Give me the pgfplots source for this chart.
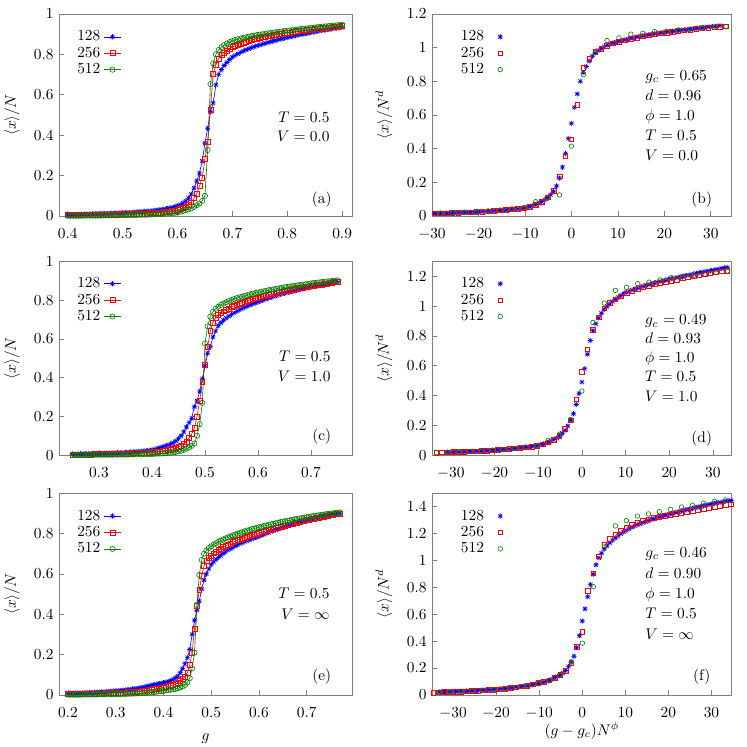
\documentclass[border=0pt]{standalone}
\usepackage{pgfplots}
\pgfplotsset{compat=1.18}
\usepackage{pgfplotstable}
\definecolor{gpblue}{RGB}{0,0,255}
\definecolor{gpred}{RGB}{255,0,0}
\definecolor{gpgreen}{RGB}{0,128,0}
\pgfdeclareplotmark{gpast}{%
  \pgfpathmoveto{\pgfqpoint{-\pgfplotmarksize}{0pt}}%
  \pgfpathlineto{\pgfqpoint{\pgfplotmarksize}{0pt}}%
  \pgfpathmoveto{\pgfqpoint{0pt}{-\pgfplotmarksize}}%
  \pgfpathlineto{\pgfqpoint{0pt}{\pgfplotmarksize}}%
  \pgfpathmoveto{\pgfqpoint{-0.75\pgfplotmarksize}{-0.75\pgfplotmarksize}}%
  \pgfpathlineto{\pgfqpoint{0.75\pgfplotmarksize}{0.75\pgfplotmarksize}}%
  \pgfpathmoveto{\pgfqpoint{-0.75\pgfplotmarksize}{0.75\pgfplotmarksize}}%
  \pgfpathlineto{\pgfqpoint{0.75\pgfplotmarksize}{-0.75\pgfplotmarksize}}%
  \pgfusepathqstroke
}
% panel (a): g, N=128, N=256, N=512
\pgfplotstableread{
g a b c
0.400 0.008 0.004 0.001
0.405 0.008 0.004 0.001
0.410 0.008 0.004 0.001
0.415 0.009 0.004 0.001
0.420 0.009 0.005 0.001
0.425 0.009 0.005 0.001
0.430 0.010 0.005 0.002
0.435 0.010 0.005 0.002
0.440 0.010 0.005 0.002
0.445 0.011 0.006 0.002
0.450 0.011 0.006 0.002
0.455 0.012 0.006 0.002
0.460 0.012 0.006 0.002
0.465 0.013 0.007 0.003
0.470 0.013 0.007 0.003
0.475 0.014 0.007 0.003
0.480 0.014 0.008 0.003
0.485 0.015 0.008 0.003
0.490 0.015 0.008 0.003
0.495 0.016 0.009 0.004
0.500 0.016 0.009 0.004
0.505 0.017 0.009 0.004
0.510 0.018 0.010 0.004
0.515 0.018 0.010 0.005
0.520 0.019 0.011 0.005
0.525 0.020 0.011 0.005
0.530 0.021 0.012 0.006
0.535 0.022 0.012 0.006
0.540 0.023 0.013 0.006
0.545 0.024 0.013 0.007
0.550 0.025 0.014 0.007
0.555 0.027 0.015 0.008
0.560 0.028 0.016 0.009
0.565 0.030 0.017 0.009
0.570 0.032 0.018 0.010
0.575 0.034 0.019 0.011
0.580 0.036 0.021 0.012
0.585 0.039 0.023 0.013
0.590 0.042 0.025 0.014
0.595 0.046 0.027 0.016
0.600 0.050 0.030 0.018
0.605 0.056 0.034 0.021
0.610 0.064 0.039 0.025
0.615 0.074 0.046 0.029
0.620 0.088 0.055 0.033
0.625 0.108 0.068 0.038
0.630 0.138 0.088 0.045
0.635 0.173 0.112 0.053
0.640 0.212 0.148 0.062
0.645 0.272 0.187 0.075
0.650 0.360 0.282 0.100
0.655 0.434 0.368 0.327
0.660 0.516 0.528 0.653
0.665 0.560 0.706 0.756
0.670 0.649 0.748 0.800
0.675 0.700 0.780 0.822
0.680 0.725 0.797 0.836
0.685 0.745 0.810 0.846
0.690 0.760 0.820 0.854
0.695 0.775 0.829 0.861
0.700 0.787 0.836 0.866
0.705 0.795 0.843 0.871
0.710 0.803 0.849 0.875
0.715 0.810 0.854 0.879
0.720 0.817 0.859 0.882
0.725 0.823 0.864 0.885
0.730 0.828 0.868 0.888
0.735 0.833 0.872 0.891
0.740 0.838 0.875 0.893
0.745 0.843 0.879 0.896
0.750 0.847 0.882 0.898
0.755 0.851 0.885 0.900
0.760 0.855 0.888 0.902
0.765 0.859 0.891 0.904
0.770 0.863 0.893 0.906
0.775 0.867 0.896 0.908
0.780 0.870 0.898 0.910
0.785 0.874 0.901 0.912
0.790 0.877 0.903 0.914
0.795 0.881 0.905 0.916
0.800 0.884 0.907 0.917
0.805 0.887 0.909 0.919
0.810 0.890 0.911 0.920
0.815 0.893 0.913 0.922
0.820 0.896 0.915 0.924
0.825 0.899 0.917 0.926
0.830 0.901 0.918 0.927
0.835 0.904 0.920 0.929
0.840 0.906 0.921 0.930
0.845 0.909 0.923 0.932
0.850 0.911 0.925 0.933
0.855 0.914 0.926 0.935
0.860 0.916 0.928 0.936
0.865 0.919 0.930 0.938
0.870 0.921 0.931 0.939
0.875 0.923 0.933 0.940
0.880 0.925 0.934 0.941
0.885 0.928 0.936 0.943
0.890 0.930 0.937 0.944
0.895 0.932 0.939 0.945
0.900 0.934 0.940 0.946
}\tabA
% panel (c)
\pgfplotstableread{
g a b c
0.250 0.006 0.003 0.001
0.255 0.006 0.003 0.001
0.260 0.006 0.003 0.001
0.265 0.007 0.003 0.001
0.270 0.007 0.004 0.001
0.275 0.007 0.004 0.001
0.280 0.008 0.004 0.001
0.285 0.008 0.004 0.002
0.290 0.008 0.005 0.002
0.295 0.009 0.005 0.002
0.300 0.009 0.005 0.002
0.305 0.009 0.005 0.002
0.310 0.010 0.006 0.002
0.315 0.010 0.006 0.002
0.320 0.011 0.006 0.002
0.325 0.011 0.006 0.002
0.330 0.012 0.007 0.003
0.335 0.012 0.007 0.003
0.340 0.013 0.007 0.003
0.345 0.013 0.008 0.003
0.350 0.014 0.008 0.003
0.355 0.015 0.009 0.003
0.360 0.016 0.009 0.004
0.365 0.017 0.010 0.004
0.370 0.018 0.011 0.004
0.375 0.019 0.011 0.005
0.380 0.020 0.012 0.005
0.385 0.021 0.013 0.005
0.390 0.023 0.013 0.005
0.395 0.025 0.014 0.006
0.400 0.027 0.015 0.006
0.405 0.030 0.017 0.007
0.410 0.034 0.018 0.008
0.415 0.038 0.020 0.008
0.420 0.042 0.021 0.009
0.425 0.047 0.024 0.010
0.430 0.052 0.026 0.012
0.435 0.057 0.029 0.013
0.440 0.063 0.032 0.015
0.445 0.073 0.037 0.017
0.450 0.085 0.042 0.020
0.455 0.100 0.049 0.023
0.460 0.120 0.058 0.027
0.465 0.145 0.070 0.033
0.470 0.168 0.088 0.040
0.475 0.190 0.110 0.048
0.480 0.250 0.140 0.060
0.485 0.280 0.200 0.100
0.490 0.330 0.280 0.160
0.495 0.395 0.380 0.270
0.500 0.460 0.465 0.576
0.505 0.525 0.560 0.665
0.510 0.560 0.640 0.715
0.515 0.610 0.685 0.740
0.520 0.640 0.708 0.755
0.525 0.668 0.722 0.766
0.530 0.683 0.733 0.775
0.535 0.696 0.742 0.782
0.540 0.707 0.750 0.789
0.545 0.717 0.757 0.795
0.550 0.726 0.764 0.800
0.555 0.734 0.770 0.805
0.560 0.742 0.776 0.810
0.565 0.749 0.782 0.814
0.570 0.756 0.787 0.818
0.575 0.763 0.792 0.822
0.580 0.769 0.796 0.826
0.585 0.775 0.801 0.830
0.590 0.780 0.805 0.833
0.595 0.785 0.809 0.836
0.600 0.790 0.813 0.839
0.605 0.795 0.817 0.842
0.610 0.800 0.820 0.845
0.615 0.805 0.824 0.848
0.620 0.810 0.827 0.851
0.625 0.814 0.830 0.854
0.630 0.819 0.834 0.856
0.635 0.823 0.837 0.859
0.640 0.827 0.840 0.861
0.645 0.831 0.843 0.863
0.650 0.835 0.846 0.866
0.655 0.838 0.849 0.868
0.660 0.842 0.852 0.870
0.665 0.845 0.854 0.872
0.670 0.848 0.857 0.874
0.675 0.852 0.859 0.876
0.680 0.855 0.862 0.878
0.685 0.858 0.864 0.880
0.690 0.861 0.867 0.882
0.695 0.864 0.869 0.884
0.700 0.867 0.872 0.886
0.705 0.870 0.874 0.888
0.710 0.872 0.877 0.889
0.715 0.875 0.879 0.891
0.720 0.877 0.881 0.893
0.725 0.880 0.883 0.894
0.730 0.882 0.886 0.896
0.735 0.885 0.888 0.897
0.740 0.887 0.890 0.899
0.745 0.890 0.892 0.900
0.750 0.892 0.894 0.902
}\tabC
% panel (e)
\pgfplotstableread{
g a b c
0.200 0.008 0.004 0.001
0.205 0.008 0.004 0.001
0.210 0.009 0.004 0.001
0.215 0.009 0.004 0.001
0.220 0.009 0.005 0.001
0.225 0.010 0.005 0.001
0.230 0.010 0.005 0.002
0.235 0.011 0.005 0.002
0.240 0.011 0.005 0.002
0.245 0.012 0.006 0.002
0.250 0.012 0.006 0.002
0.255 0.013 0.006 0.002
0.260 0.013 0.007 0.002
0.265 0.014 0.007 0.003
0.270 0.015 0.007 0.003
0.275 0.015 0.008 0.003
0.280 0.016 0.008 0.003
0.285 0.017 0.009 0.003
0.290 0.018 0.009 0.004
0.295 0.019 0.010 0.004
0.300 0.020 0.010 0.004
0.305 0.021 0.011 0.004
0.310 0.022 0.012 0.005
0.315 0.023 0.012 0.005
0.320 0.025 0.013 0.005
0.325 0.026 0.014 0.006
0.330 0.027 0.014 0.006
0.335 0.029 0.015 0.007
0.340 0.031 0.016 0.007
0.345 0.032 0.017 0.008
0.350 0.034 0.018 0.008
0.355 0.037 0.020 0.009
0.360 0.039 0.021 0.010
0.365 0.042 0.023 0.011
0.370 0.045 0.025 0.012
0.375 0.048 0.027 0.013
0.380 0.050 0.029 0.014
0.385 0.053 0.031 0.016
0.390 0.055 0.033 0.017
0.395 0.058 0.035 0.019
0.400 0.060 0.037 0.020
0.405 0.063 0.040 0.022
0.410 0.066 0.043 0.024
0.415 0.071 0.046 0.026
0.420 0.076 0.050 0.028
0.425 0.085 0.055 0.030
0.430 0.093 0.060 0.033
0.435 0.110 0.068 0.037
0.440 0.130 0.078 0.042
0.445 0.155 0.092 0.050
0.450 0.185 0.110 0.062
0.455 0.225 0.150 0.083
0.460 0.300 0.210 0.132
0.465 0.370 0.330 0.210
0.470 0.420 0.440 0.446
0.475 0.465 0.520 0.595
0.480 0.525 0.590 0.669
0.485 0.570 0.640 0.700
0.490 0.600 0.665 0.716
0.495 0.625 0.680 0.728
0.500 0.647 0.692 0.737
0.505 0.660 0.702 0.745
0.510 0.672 0.711 0.752
0.515 0.682 0.719 0.759
0.520 0.692 0.726 0.765
0.525 0.701 0.733 0.771
0.530 0.710 0.739 0.776
0.535 0.718 0.745 0.781
0.540 0.725 0.751 0.786
0.545 0.732 0.757 0.791
0.550 0.738 0.762 0.795
0.555 0.744 0.767 0.799
0.560 0.750 0.771 0.803
0.565 0.755 0.776 0.807
0.570 0.760 0.780 0.811
0.575 0.765 0.784 0.815
0.580 0.769 0.788 0.818
0.585 0.774 0.792 0.822
0.590 0.778 0.796 0.825
0.595 0.782 0.800 0.828
0.600 0.786 0.803 0.831
0.605 0.791 0.807 0.834
0.610 0.796 0.810 0.837
0.615 0.801 0.814 0.840
0.620 0.806 0.817 0.843
0.625 0.810 0.820 0.846
0.630 0.814 0.824 0.849
0.635 0.818 0.827 0.851
0.640 0.822 0.830 0.854
0.645 0.826 0.833 0.857
0.650 0.830 0.837 0.859
0.655 0.834 0.840 0.862
0.660 0.838 0.843 0.864
0.665 0.842 0.846 0.866
0.670 0.845 0.849 0.869
0.675 0.849 0.852 0.871
0.680 0.852 0.855 0.873
0.685 0.855 0.858 0.875
0.690 0.859 0.861 0.877
0.695 0.862 0.863 0.879
0.700 0.865 0.866 0.881
0.705 0.868 0.869 0.883
0.710 0.871 0.872 0.885
0.715 0.874 0.874 0.887
0.720 0.877 0.877 0.889
0.725 0.879 0.879 0.891
0.730 0.882 0.882 0.892
0.735 0.884 0.884 0.894
0.740 0.887 0.887 0.896
0.745 0.889 0.889 0.897
0.750 0.891 0.891 0.899
0.755 0.894 0.894 0.900
0.760 0.896 0.896 0.902
0.765 0.898 0.898 0.903
0.770 0.900 0.900 0.905
}\tabE
\pgfplotsset{
  panel/.style={
    scale only axis,
    axis line style={gray},
    every tick/.style={gray, line width=0.4pt},
    tick align=inside,
    xtick pos=left, ytick pos=left,
    major tick length=3.5pt,
    xticklabel style={yshift=-4.5pt},
    legend plot pos=right,
    legend cell align=right,
    legend style={draw=none, fill=none, anchor=north west, row sep=-1.5pt},
    ylabel style={at={(axis description cs:-0.16,0.5)}, anchor=center},
  },
  leftleg/.style={
    legend style={at={(axis description cs:0.035,0.95)}},
    legend image code/.code={\draw[mark repeat=2,mark phase=2,##1] plot coordinates {(0.2cm,0cm) (0.4cm,0cm) (0.6cm,0cm)};},
  },
  rightleg/.style={
    legend style={at={(axis description cs:0.07,0.95)}},
  },
  rleg/.style={legend image code/.code={\path[draw=none,fill=none] (0cm,0cm) (0.55cm,0cm); \draw[mark repeat=2,mark phase=2,##1] plot coordinates {(0cm,0cm) (0.3cm,0cm) (0.6cm,0cm)};}},
  l128/.style={gpblue, mark=gpast, mark size=1.7pt, line width=0.4pt},
  l256/.style={gpred, mark=square, mark size=1.6pt, line width=0.4pt},
  l512/.style={gpgreen, mark=o, mark size=1.7pt, line width=0.4pt},
  r128/.style={only marks, rleg, gpblue, mark=gpast, mark size=1.7pt, line width=0.4pt},
  r256/.style={only marks, rleg, gpred, mark=square, mark size=1.5pt, line width=0.4pt},
  r512/.style={only marks, rleg, gpgreen, mark=o, mark size=1.5pt, line width=0.4pt},
}
\begin{document}
\begin{tikzpicture}
\useasboundingbox (0pt,0pt) rectangle (485.55pt,-485.55pt);
% ---------------- (a)
\begin{axis}[panel, leftleg, at={(38.35pt,-9.1pt)}, anchor=north west,
  width=190.45pt, height=131.3pt,
  xmin=0.384, xmax=0.918, ymin=0, ymax=1,
  xtick={0.4,0.5,0.6,0.7,0.8,0.9}, ytick={0,0.2,0.4,0.6,0.8,1},
  ylabel={$\langle x\rangle/N$}]
\addplot[l128] table[x=g,y=a]{\tabA}; \addlegendentry{128}
\addplot[l256] table[x=g,y=b]{\tabA}; \addlegendentry{256}
\addplot[l512] table[x=g,y=c]{\tabA}; \addlegendentry{512}
\node[anchor=base east] at (rel axis cs:0.942,0.465) {$T = 0.5$};
\node[anchor=base east] at (rel axis cs:0.942,0.37) {$V = 0.0$};
\node at (rel axis cs:0.897,0.083) {(a)};
\end{axis}
% ---------------- (b)
\begin{axis}[panel, rightleg, at={(280.8pt,-9.1pt)}, anchor=north west,
  width=194.8pt, height=131.3pt,
  xmin=-30, xmax=34.5, ymin=0, ymax=1.2,
  xtick={-30,-20,-10,0,10,20,30}, ytick={0,0.2,0.4,0.6,0.8,1,1.2},
  ylabel={$\langle x\rangle/N^d$}]
\addplot[r128] table[row sep=\\]{x y\\-32 0.013\\-31.36 0.014\\-30.72 0.014\\-30.08 0.015\\-29.44 0.015\\-28.8 0.016\\-28.16 0.016\\-27.52 0.017\\-26.88 0.017\\-26.24 0.018\\-25.6 0.018\\-24.96 0.019\\-24.32 0.020\\-23.68 0.020\\-23.04 0.021\\-22.4 0.022\\-21.76 0.022\\-21.12 0.023\\-20.48 0.024\\-19.84 0.025\\-19.2 0.026\\-18.56 0.027\\-17.92 0.028\\-17.28 0.029\\-16.64 0.031\\-16 0.032\\-15.36 0.033\\-14.72 0.035\\-14.08 0.036\\-13.44 0.037\\-12.8 0.039\\-12.16 0.041\\-11.52 0.042\\-10.88 0.044\\-10.24 0.046\\-9.6 0.051\\-8.96 0.055\\-8.32 0.061\\-7.68 0.068\\-7.04 0.075\\-6.4 0.085\\-5.76 0.096\\-5.12 0.110\\-4.48 0.126\\-3.84 0.146\\-3.2 0.178\\-2.56 0.225\\-1.92 0.29\\-1.28 0.37\\-0.64 0.46\\0 0.55\\0.64 0.645\\1.28 0.725\\1.92 0.80\\2.56 0.853\\3.2 0.888\\3.84 0.921\\4.48 0.949\\5.12 0.968\\5.76 0.983\\6.4 0.995\\7.04 1.006\\7.68 1.014\\8.32 1.021\\8.96 1.028\\9.6 1.033\\10.24 1.038\\10.88 1.042\\11.52 1.047\\12.16 1.051\\12.8 1.055\\13.44 1.059\\14.08 1.063\\14.72 1.067\\15.36 1.071\\16 1.074\\16.64 1.077\\17.28 1.080\\17.92 1.083\\18.56 1.086\\19.2 1.088\\19.84 1.091\\20.48 1.093\\21.12 1.095\\21.76 1.097\\22.4 1.099\\23.04 1.102\\23.68 1.104\\24.32 1.106\\24.96 1.108\\25.6 1.110\\26.24 1.113\\26.88 1.115\\27.52 1.117\\28.16 1.119\\28.8 1.121\\29.44 1.123\\30.08 1.125\\30.72 1.127\\31.36 1.129\\32 1.131\\}; \addlegendentry{128}
\addplot[r256] table[row sep=\\]{x y\\-30.72 0.014\\-29.44 0.015\\-28.16 0.016\\-26.88 0.017\\-25.6 0.018\\-24.32 0.020\\-23.04 0.021\\-21.76 0.022\\-20.48 0.024\\-19.2 0.026\\-17.92 0.028\\-16.64 0.031\\-15.36 0.033\\-14.08 0.036\\-12.8 0.039\\-11.52 0.042\\-10.24 0.046\\-8.96 0.055\\-7.68 0.068\\-6.4 0.086\\-5.12 0.11\\-3.84 0.15\\-2.56 0.235\\-1.28 0.355\\0 0.455\\1.28 0.66\\2.56 0.88\\3.84 0.935\\5.12 0.975\\6.4 0.995\\7.68 1.012\\8.96 1.025\\10.24 1.035\\11.52 1.044\\12.8 1.052\\14.08 1.06\\15.36 1.067\\16.64 1.073\\17.92 1.079\\19.2 1.085\\20.48 1.09\\21.76 1.095\\23.04 1.099\\24.32 1.103\\25.6 1.107\\26.88 1.111\\28.16 1.115\\29.44 1.118\\30.72 1.121\\32 1.124\\33.28 1.127\\34.56 1.13\\}; \addlegendentry{256}
\addplot[r512] table[row sep=\\]{x y\\-28.16 0.017\\-25.6 0.02\\-23.04 0.022\\-20.48 0.026\\-17.92 0.03\\-15.36 0.035\\-12.8 0.042\\-10.24 0.05\\-7.68 0.085\\-5.12 0.105\\-2.56 0.125\\0 0.415\\2.56 0.84\\5.12 0.972\\7.68 1.042\\10.24 1.058\\12.8 1.08\\15.36 1.085\\17.92 1.095\\20.48 1.098\\23.04 1.105\\25.6 1.11\\28.16 1.118\\30.72 1.12\\33.28 1.125\\}; \addlegendentry{512}
\node[anchor=base west] at (rel axis cs:0.694,0.673) {$g_c = 0.65$};
\node[anchor=base west] at (rel axis cs:0.694,0.574) {$d = 0.96$};
\node[anchor=base west] at (rel axis cs:0.694,0.475) {$\phi = 1.0$};
\node[anchor=base west] at (rel axis cs:0.694,0.376) {$T = 0.5$};
\node[anchor=base west] at (rel axis cs:0.694,0.277) {$V = 0.0$};
\node at (rel axis cs:0.9,0.083) {(b)};
\end{axis}
% ---------------- (c)
\begin{axis}[panel, leftleg, at={(38.35pt,-169.85pt)}, anchor=north west,
  width=190.45pt, height=126pt,
  xmin=0.2245, xmax=0.7774, ymin=0, ymax=1,
  xtick={0.3,0.4,0.5,0.6,0.7}, ytick={0,0.2,0.4,0.6,0.8,1},
  ylabel={$\langle x\rangle/N$}]
\addplot[l128] table[x=g,y=a]{\tabC}; \addlegendentry{128}
\addplot[l256] table[x=g,y=b]{\tabC}; \addlegendentry{256}
\addplot[l512] table[x=g,y=c]{\tabC}; \addlegendentry{512}
\node[anchor=base east] at (rel axis cs:0.945,0.481) {$T = 0.5$};
\node[anchor=base east] at (rel axis cs:0.945,0.378) {$V = 1.0$};
\node at (rel axis cs:0.897,0.094) {(c)};
\end{axis}
% ---------------- (d)
\begin{axis}[panel, rightleg, at={(280.8pt,-169.85pt)}, anchor=north west,
  width=194.8pt, height=126pt,
  xmin=-34.3, xmax=34.3, ymin=0, ymax=1.3,
  xtick={-30,-20,-10,0,10,20,30}, ytick={0,0.2,0.4,0.6,0.8,1,1.2},
  ylabel={$\langle x\rangle/N^d$}]
\addplot[r128] table[row sep=\\]{x y\\-30.72 0.019\\-30.08 0.020\\-29.44 0.020\\-28.8 0.021\\-28.16 0.022\\-27.52 0.023\\-26.88 0.024\\-26.24 0.025\\-25.6 0.025\\-24.96 0.026\\-24.32 0.027\\-23.68 0.027\\-23.04 0.028\\-22.4 0.029\\-21.76 0.030\\-21.12 0.032\\-20.48 0.033\\-19.84 0.034\\-19.2 0.036\\-18.56 0.037\\-17.92 0.038\\-17.28 0.040\\-16.64 0.041\\-16 0.043\\-15.36 0.045\\-14.72 0.047\\-14.08 0.049\\-13.44 0.051\\-12.8 0.053\\-12.16 0.055\\-11.52 0.058\\-10.88 0.061\\-10.24 0.064\\-9.6 0.069\\-8.96 0.073\\-8.32 0.079\\-7.68 0.086\\-7.04 0.094\\-6.4 0.104\\-5.76 0.115\\-5.12 0.128\\-4.48 0.146\\-3.84 0.167\\-3.2 0.196\\-2.56 0.234\\-1.92 0.278\\-1.28 0.34\\-0.64 0.413\\0 0.49\\0.64 0.58\\1.28 0.677\\1.92 0.769\\2.56 0.835\\3.2 0.882\\3.84 0.92\\4.48 0.952\\5.12 0.979\\5.76 0.998\\6.4 1.015\\7.04 1.031\\7.68 1.045\\8.32 1.058\\8.96 1.071\\9.6 1.083\\10.24 1.093\\10.88 1.1\\11.52 1.108\\12.16 1.115\\12.8 1.121\\13.44 1.127\\14.08 1.134\\14.72 1.139\\15.36 1.145\\16 1.15\\16.64 1.155\\17.28 1.16\\17.92 1.165\\18.56 1.17\\19.2 1.174\\19.84 1.179\\20.48 1.183\\21.12 1.187\\21.76 1.191\\22.4 1.195\\23.04 1.199\\23.68 1.203\\24.32 1.207\\24.96 1.211\\25.6 1.215\\26.24 1.219\\26.88 1.223\\27.52 1.227\\28.16 1.231\\28.8 1.234\\29.44 1.237\\30.08 1.24\\30.72 1.244\\31.36 1.248\\32 1.252\\32.64 1.255\\33.28 1.258\\}; \addlegendentry{128}
\addplot[r256] table[row sep=\\]{x y\\-34.56 0.015\\-33.28 0.017\\-32 0.018\\-30.72 0.019\\-29.44 0.021\\-28.16 0.022\\-26.88 0.024\\-25.6 0.025\\-24.32 0.027\\-23.04 0.028\\-21.76 0.030\\-20.48 0.033\\-19.2 0.036\\-17.92 0.038\\-16.64 0.041\\-15.36 0.045\\-14.08 0.049\\-12.8 0.053\\-11.52 0.058\\-10.24 0.064\\-8.96 0.073\\-7.68 0.086\\-6.4 0.104\\-5.12 0.13\\-3.84 0.175\\-2.56 0.235\\-1.28 0.375\\0 0.56\\1.28 0.71\\2.56 0.84\\3.84 0.925\\5.12 0.985\\6.4 1.02\\7.68 1.045\\8.96 1.065\\10.24 1.085\\11.52 1.1\\12.8 1.112\\14.08 1.125\\15.36 1.135\\16.64 1.145\\17.92 1.155\\19.2 1.163\\20.48 1.17\\21.76 1.178\\23.04 1.185\\24.32 1.192\\25.6 1.2\\26.88 1.207\\28.16 1.213\\29.44 1.22\\30.72 1.226\\32 1.232\\33.28 1.237\\34.56 1.242\\}; \addlegendentry{256}
\addplot[r512] table[row sep=\\]{x y\\-33.28 0.017\\-30.72 0.02\\-28.16 0.022\\-25.6 0.025\\-23.04 0.03\\-20.48 0.033\\-17.92 0.038\\-15.36 0.045\\-12.8 0.055\\-10.24 0.065\\-7.68 0.1\\-5.12 0.14\\-2.56 0.24\\0 0.43\\2.56 0.89\\5.12 1.02\\7.68 1.105\\10.24 1.125\\12.8 1.15\\15.36 1.16\\17.92 1.175\\20.48 1.19\\23.04 1.195\\25.6 1.205\\28.16 1.215\\30.72 1.225\\33.28 1.235\\}; \addlegendentry{512}
\node[anchor=base west] at (rel axis cs:0.693,0.672) {$g_c = 0.49$};
\node[anchor=base west] at (rel axis cs:0.693,0.578) {$d = 0.93$};
\node[anchor=base west] at (rel axis cs:0.693,0.479) {$\phi = 1.0$};
\node[anchor=base west] at (rel axis cs:0.693,0.379) {$T = 0.5$};
\node[anchor=base west] at (rel axis cs:0.693,0.276) {$V = 1.0$};
\node at (rel axis cs:0.9,0.086) {(d)};
\end{axis}
% ---------------- (e)
\begin{axis}[panel, leftleg, at={(38.35pt,-320.6pt)}, anchor=north west,
  width=190.45pt, height=131.1pt,
  xmin=0.181, xmax=0.795, ymin=0, ymax=1,
  xtick={0.2,0.3,0.4,0.5,0.6,0.7}, ytick={0,0.2,0.4,0.6,0.8,1},
  ylabel={$\langle x\rangle/N$},
  xlabel={$g$}, xlabel style={at={(axis description cs:0.5,-0.225)}, anchor=base}]
\addplot[l128] table[x=g,y=a]{\tabE}; \addlegendentry{128}
\addplot[l256] table[x=g,y=b]{\tabE}; \addlegendentry{256}
\addplot[l512] table[x=g,y=c]{\tabE}; \addlegendentry{512}
\node[anchor=base east] at (rel axis cs:0.942,0.479) {$T = 0.5$};
\node[anchor=base east] at (rel axis cs:0.942,0.372) {$V = \infty$};
\node at (rel axis cs:0.897,0.091) {(e)};
\end{axis}
% ---------------- (f)
\begin{axis}[panel, rightleg, at={(280.8pt,-320.6pt)}, anchor=north west,
  width=194.8pt, height=131.1pt,
  xmin=-34.9, xmax=34.7, ymin=0, ymax=1.5,
  xtick={-30,-20,-10,0,10,20,30}, ytick={0,0.2,0.4,0.6,0.8,1,1.2,1.4},
  ylabel={$\langle x\rangle/N^d$},
  xlabel={$(g-g_c)N^{\phi}$}, xlabel style={at={(axis description cs:0.5,-0.2)}, anchor=base}]
\addplot[r128] table[row sep=\\]{x y\\-33.28 0.022\\-32.64 0.023\\-32 0.023\\-31.36 0.024\\-30.72 0.024\\-30.08 0.025\\-29.44 0.026\\-28.8 0.027\\-28.16 0.028\\-27.52 0.028\\-26.88 0.029\\-26.24 0.030\\-25.6 0.031\\-24.96 0.032\\-24.32 0.033\\-23.68 0.035\\-23.04 0.036\\-22.4 0.037\\-21.76 0.039\\-21.12 0.040\\-20.48 0.042\\-19.84 0.043\\-19.2 0.045\\-18.56 0.047\\-17.92 0.048\\-17.28 0.051\\-16.64 0.053\\-16 0.055\\-15.36 0.058\\-14.72 0.060\\-14.08 0.063\\-13.44 0.066\\-12.8 0.069\\-12.16 0.072\\-11.52 0.076\\-10.88 0.081\\-10.24 0.085\\-9.6 0.090\\-8.96 0.095\\-8.32 0.102\\-7.68 0.109\\-7.04 0.117\\-6.4 0.127\\-5.76 0.137\\-5.12 0.148\\-4.48 0.163\\-3.84 0.182\\-3.2 0.211\\-2.56 0.246\\-1.92 0.288\\-1.28 0.352\\-0.64 0.441\\0 0.55\\0.64 0.64\\1.28 0.73\\1.92 0.82\\2.56 0.897\\3.2 0.968\\3.84 1.019\\4.48 1.054\\5.12 1.085\\5.76 1.11\\6.4 1.132\\7.04 1.151\\7.68 1.167\\8.32 1.183\\8.96 1.199\\9.6 1.212\\10.24 1.224\\10.88 1.235\\11.52 1.247\\12.16 1.257\\12.8 1.265\\13.44 1.273\\14.08 1.281\\14.72 1.288\\15.36 1.295\\16 1.303\\16.64 1.31\\17.28 1.317\\17.92 1.324\\18.56 1.33\\19.2 1.336\\19.84 1.342\\20.48 1.347\\21.12 1.352\\21.76 1.358\\22.4 1.363\\23.04 1.368\\23.68 1.373\\24.32 1.378\\24.96 1.382\\25.6 1.387\\26.24 1.392\\26.88 1.397\\27.52 1.401\\28.16 1.406\\28.8 1.411\\29.44 1.416\\30.08 1.42\\30.72 1.424\\31.36 1.428\\32 1.432\\32.64 1.436\\33.28 1.44\\33.92 1.443\\34.56 1.446\\}; \addlegendentry{128}
\addplot[r256] table[row sep=\\]{x y\\-34.56 0.018\\-33.28 0.02\\-32 0.021\\-30.72 0.022\\-29.44 0.024\\-28.16 0.025\\-26.88 0.027\\-25.6 0.029\\-24.32 0.031\\-23.04 0.034\\-21.76 0.037\\-20.48 0.04\\-19.2 0.043\\-17.92 0.047\\-16.64 0.052\\-15.36 0.057\\-14.08 0.063\\-12.8 0.07\\-11.52 0.078\\-10.24 0.088\\-8.96 0.098\\-7.68 0.11\\-6.4 0.127\\-5.12 0.148\\-3.84 0.18\\-2.56 0.235\\-1.28 0.36\\0 0.47\\1.28 0.773\\2.56 0.905\\3.84 1.03\\5.12 1.115\\6.4 1.16\\7.68 1.195\\8.96 1.22\\10.24 1.245\\11.52 1.265\\12.8 1.28\\14.08 1.293\\15.36 1.305\\16.64 1.315\\17.92 1.324\\19.2 1.333\\20.48 1.341\\21.76 1.349\\23.04 1.356\\24.32 1.363\\25.6 1.37\\26.88 1.377\\28.16 1.384\\29.44 1.391\\30.72 1.398\\32 1.405\\33.28 1.412\\34.56 1.418\\}; \addlegendentry{256}
\addplot[r512] table[row sep=\\]{x y\\-33.28 0.02\\-30.72 0.023\\-28.16 0.026\\-25.6 0.03\\-23.04 0.034\\-20.48 0.041\\-17.92 0.047\\-15.36 0.056\\-12.8 0.068\\-10.24 0.083\\-7.68 0.105\\-5.12 0.145\\-2.56 0.245\\0 0.385\\2.56 0.805\\5.12 1.10\\7.68 1.257\\10.24 1.296\\12.8 1.33\\15.36 1.346\\17.92 1.363\\20.48 1.38\\23.04 1.397\\25.6 1.41\\28.16 1.425\\30.72 1.44\\33.28 1.45\\}; \addlegendentry{512}
\node[anchor=base west] at (rel axis cs:0.694,0.681) {$g_c = 0.46$};
\node[anchor=base west] at (rel axis cs:0.694,0.578) {$d = 0.90$};
\node[anchor=base west] at (rel axis cs:0.694,0.479) {$\phi = 1.0$};
\node[anchor=base west] at (rel axis cs:0.694,0.38) {$T = 0.5$};
\node[anchor=base west] at (rel axis cs:0.694,0.277) {$V = \infty$};
\node at (rel axis cs:0.9,0.091) {(f)};
\end{axis}
\end{tikzpicture}
\end{document}
